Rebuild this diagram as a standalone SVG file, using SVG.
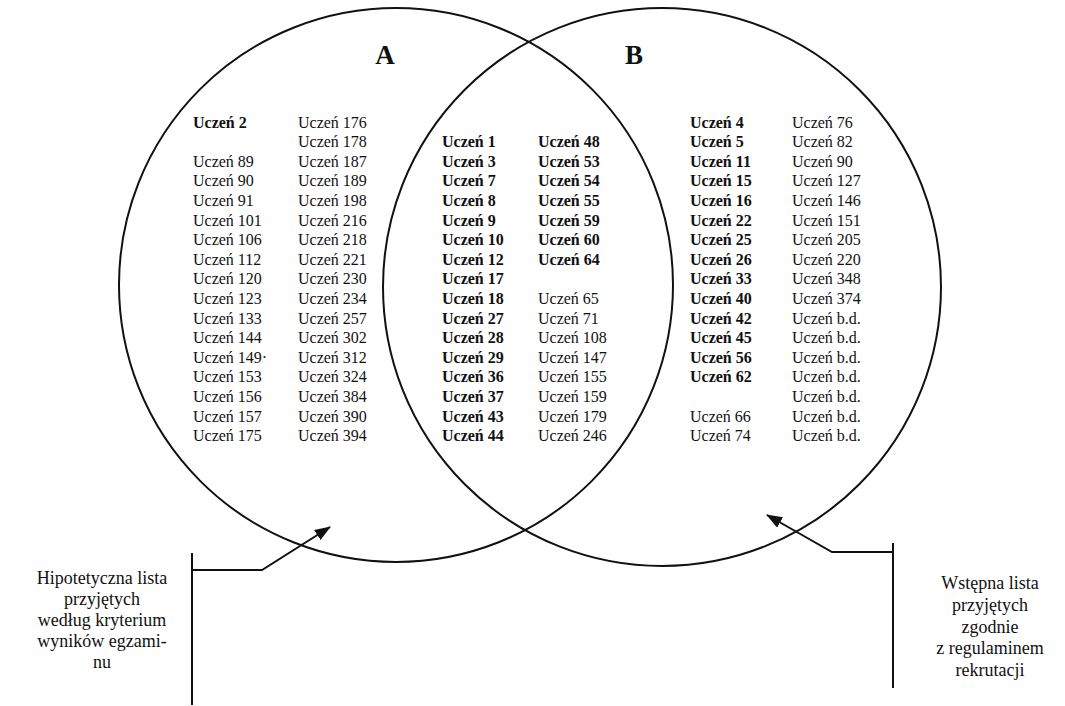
<svg xmlns="http://www.w3.org/2000/svg" width="1065" height="706" viewBox="0 0 1065 706">
<style>
.c{fill:none;stroke:#111;stroke-width:2}
.l{fill:none;stroke:#111;stroke-width:2}
text{font-family:"Liberation Serif","Times New Roman",serif;fill:#111}
.t{font-size:16px}
.b{font-weight:bold}
.lab{font-size:18px;text-anchor:middle}
.big{font-size:27px;font-weight:bold;text-anchor:middle}
</style>
<defs>
<marker id="ah" markerWidth="16" markerHeight="12" refX="15" refY="6" orient="auto" markerUnits="userSpaceOnUse">
<path d="M0,0 L16,6 L0,12 Z" fill="#111"/>
</marker>
</defs>
<rect width="1065" height="706" fill="#fff"/>
<g id="setA">
<circle class="c" cx="396" cy="285" r="277"/>
<text class="big" x="385" y="64">A</text>
<g class="t">
<text x="193" y="127.5" class="b">Uczeń 2</text>
<text x="193" y="166.7">Uczeń 89</text>
<text x="193" y="186.3">Uczeń 90</text>
<text x="193" y="205.9">Uczeń 91</text>
<text x="193" y="225.5">Uczeń 101</text>
<text x="193" y="245.1">Uczeń 106</text>
<text x="193" y="264.7">Uczeń 112</text>
<text x="193" y="284.3">Uczeń 120</text>
<text x="193" y="303.9">Uczeń 123</text>
<text x="193" y="323.5">Uczeń 133</text>
<text x="193" y="343.1">Uczeń 144</text>
<text x="193" y="362.7">Uczeń 149·</text>
<text x="193" y="382.3">Uczeń 153</text>
<text x="193" y="401.9">Uczeń 156</text>
<text x="193" y="421.5">Uczeń 157</text>
<text x="193" y="441.1">Uczeń 175</text>
<text x="298" y="127.5">Uczeń 176</text>
<text x="298" y="147.1">Uczeń 178</text>
<text x="298" y="166.7">Uczeń 187</text>
<text x="298" y="186.3">Uczeń 189</text>
<text x="298" y="205.9">Uczeń 198</text>
<text x="298" y="225.5">Uczeń 216</text>
<text x="298" y="245.1">Uczeń 218</text>
<text x="298" y="264.7">Uczeń 221</text>
<text x="298" y="284.3">Uczeń 230</text>
<text x="298" y="303.9">Uczeń 234</text>
<text x="298" y="323.5">Uczeń 257</text>
<text x="298" y="343.1">Uczeń 302</text>
<text x="298" y="362.7">Uczeń 312</text>
<text x="298" y="382.3">Uczeń 324</text>
<text x="298" y="401.9">Uczeń 384</text>
<text x="298" y="421.5">Uczeń 390</text>
<text x="298" y="441.1">Uczeń 394</text>
</g>
</g>
<g id="setB">
<circle class="c" cx="662" cy="287" r="279"/>
<text class="big" x="634" y="64">B</text>
<g class="t">
<text x="690" y="127.5" class="b">Uczeń 4</text>
<text x="690" y="147.1" class="b">Uczeń 5</text>
<text x="690" y="166.7" class="b">Uczeń 11</text>
<text x="690" y="186.3" class="b">Uczeń 15</text>
<text x="690" y="205.9" class="b">Uczeń 16</text>
<text x="690" y="225.5" class="b">Uczeń 22</text>
<text x="690" y="245.1" class="b">Uczeń 25</text>
<text x="690" y="264.7" class="b">Uczeń 26</text>
<text x="690" y="284.3" class="b">Uczeń 33</text>
<text x="690" y="303.9" class="b">Uczeń 40</text>
<text x="690" y="323.5" class="b">Uczeń 42</text>
<text x="690" y="343.1" class="b">Uczeń 45</text>
<text x="690" y="362.7" class="b">Uczeń 56</text>
<text x="690" y="382.3" class="b">Uczeń 62</text>
<text x="690" y="421.5">Uczeń 66</text>
<text x="690" y="441.1">Uczeń 74</text>
<text x="792" y="127.5">Uczeń 76</text>
<text x="792" y="147.1">Uczeń 82</text>
<text x="792" y="166.7">Uczeń 90</text>
<text x="792" y="186.3">Uczeń 127</text>
<text x="792" y="205.9">Uczeń 146</text>
<text x="792" y="225.5">Uczeń 151</text>
<text x="792" y="245.1">Uczeń 205</text>
<text x="792" y="264.7">Uczeń 220</text>
<text x="792" y="284.3">Uczeń 348</text>
<text x="792" y="303.9">Uczeń 374</text>
<text x="792" y="323.5">Uczeń b.d.</text>
<text x="792" y="343.1">Uczeń b.d.</text>
<text x="792" y="362.7">Uczeń b.d.</text>
<text x="792" y="382.3">Uczeń b.d.</text>
<text x="792" y="401.9">Uczeń b.d.</text>
<text x="792" y="421.5">Uczeń b.d.</text>
<text x="792" y="441.1">Uczeń b.d.</text>
</g>
</g>
<g id="intersection" class="t">
<text x="442" y="147.1" class="b">Uczeń 1</text>
<text x="442" y="166.7" class="b">Uczeń 3</text>
<text x="442" y="186.3" class="b">Uczeń 7</text>
<text x="442" y="205.9" class="b">Uczeń 8</text>
<text x="442" y="225.5" class="b">Uczeń 9</text>
<text x="442" y="245.1" class="b">Uczeń 10</text>
<text x="442" y="264.7" class="b">Uczeń 12</text>
<text x="442" y="284.3" class="b">Uczeń 17</text>
<text x="442" y="303.9" class="b">Uczeń 18</text>
<text x="442" y="323.5" class="b">Uczeń 27</text>
<text x="442" y="343.1" class="b">Uczeń 28</text>
<text x="442" y="362.7" class="b">Uczeń 29</text>
<text x="442" y="382.3" class="b">Uczeń 36</text>
<text x="442" y="401.9" class="b">Uczeń 37</text>
<text x="442" y="421.5" class="b">Uczeń 43</text>
<text x="442" y="441.1" class="b">Uczeń 44</text>
<text x="538" y="147.1" class="b">Uczeń 48</text>
<text x="538" y="166.7" class="b">Uczeń 53</text>
<text x="538" y="186.3" class="b">Uczeń 54</text>
<text x="538" y="205.9" class="b">Uczeń 55</text>
<text x="538" y="225.5" class="b">Uczeń 59</text>
<text x="538" y="245.1" class="b">Uczeń 60</text>
<text x="538" y="264.7" class="b">Uczeń 64</text>
<text x="538" y="303.9">Uczeń 65</text>
<text x="538" y="323.5">Uczeń 71</text>
<text x="538" y="343.1">Uczeń 108</text>
<text x="538" y="362.7">Uczeń 147</text>
<text x="538" y="382.3">Uczeń 155</text>
<text x="538" y="401.9">Uczeń 159</text>
<text x="538" y="421.5">Uczeń 179</text>
<text x="538" y="441.1">Uczeń 246</text>
</g>
<g id="labelA">
<text class="lab" x="102" y="584">Hipotetyczna lista</text>
<text class="lab" x="102" y="605">przyjętych</text>
<text class="lab" x="102" y="626">według kryterium</text>
<text class="lab" x="102" y="647">wyników egzami-</text>
<text class="lab" x="102" y="668">nu</text>
</g>
<g id="labelB">
<text class="lab" x="990" y="589">Wstępna lista</text>
<text class="lab" x="990" y="611">przyjętych</text>
<text class="lab" x="990" y="633">zgodnie</text>
<text class="lab" x="990" y="654">z regulaminem</text>
<text class="lab" x="990" y="676">rekrutacji</text>
</g>
<g id="connectors">
<line class="l" x1="192" y1="553" x2="192" y2="705"/>
<polyline class="l" points="192,570 262,570 330,527" marker-end="url(#ah)"/>
<line class="l" x1="893" y1="543" x2="893" y2="688"/>
<polyline class="l" points="893,552 832,552 767,515" marker-end="url(#ah)"/>
</g>
</svg>
